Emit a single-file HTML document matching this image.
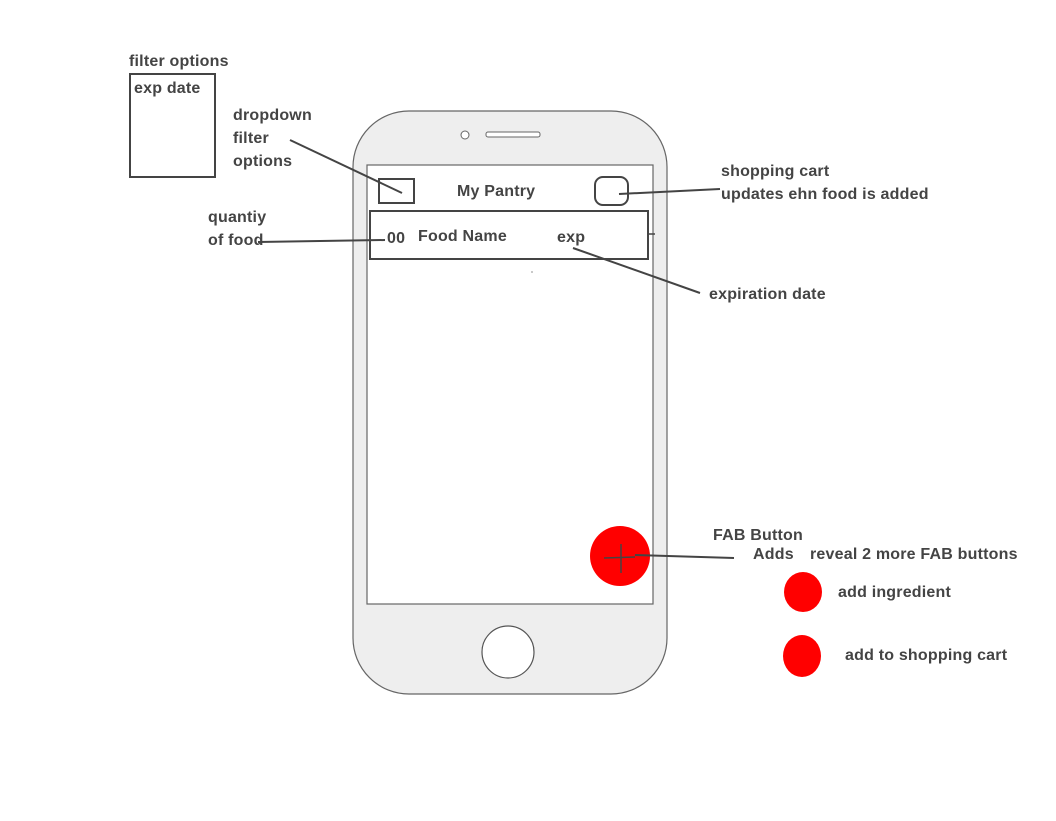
<!DOCTYPE html>
<html><head><style>
body{margin:0;background:#fff}
svg text{font-family:"Liberation Sans",sans-serif;font-weight:bold;font-size:16px;letter-spacing:0.2px;fill:#444}
</style></head><body>
<svg width="1056" height="816" xmlns="http://www.w3.org/2000/svg">
<rect x="353" y="111" width="314" height="583" rx="56" fill="#eee" stroke="#666" stroke-width="1.2"/>
<rect x="367" y="165" width="286" height="439" fill="#fff" stroke="#666" stroke-width="1.2"/>
<circle cx="465" cy="135" r="4" fill="#fff" stroke="#666"/>
<rect x="486" y="132" width="54" height="5" rx="2" fill="#fff" stroke="#666"/>
<circle cx="508" cy="652" r="26" fill="#fff" stroke="#555" stroke-width="1.2"/>
<rect x="379" y="179" width="35" height="24" fill="none" stroke="#444" stroke-width="2"/>
<rect x="595" y="177" width="33" height="28" rx="8" fill="none" stroke="#444" stroke-width="2"/>
<rect x="370" y="211" width="278" height="48" fill="none" stroke="#444" stroke-width="2"/>
<line x1="648" y1="234" x2="655" y2="234" stroke="#444" stroke-width="1.5"/>
<text x="457" y="196">My Pantry</text>
<text x="387" y="243">00</text>
<text x="418" y="241">Food Name</text>
<text x="557" y="242">exp</text>
<rect x="130" y="74" width="85" height="103" fill="none" stroke="#444" stroke-width="2"/>
<text x="129" y="66">filter options</text>
<text x="134" y="93">exp date</text>
<text x="233" y="120">dropdown</text>
<text x="233" y="143">filter</text>
<text x="233" y="166">options</text>
<line x1="290" y1="140" x2="402" y2="193" stroke="#444" stroke-width="2"/>
<text x="208" y="222">quantiy</text>
<text x="208" y="245">of food</text>
<line x1="258" y1="242" x2="385" y2="240" stroke="#444" stroke-width="2"/>
<text x="721" y="176">shopping cart</text>
<text x="721" y="199">updates ehn food is added</text>
<line x1="619" y1="194" x2="720" y2="189" stroke="#444" stroke-width="2"/>
<line x1="573" y1="248" x2="700" y2="293" stroke="#444" stroke-width="2"/>
<text x="709" y="299">expiration date</text>
<circle cx="620" cy="556" r="30" fill="#f00"/>
<line x1="604" y1="558" x2="635" y2="557" stroke="#444" stroke-width="1.5"/>
<line x1="621" y1="544" x2="621" y2="573" stroke="#444" stroke-width="1.5"/>
<line x1="635" y1="555" x2="734" y2="558" stroke="#444" stroke-width="2"/>
<text x="713" y="540">FAB Button</text>
<text x="753" y="559">Adds</text>
<text x="810" y="559">reveal 2 more FAB buttons</text>
<ellipse cx="803" cy="592" rx="19" ry="20" fill="#f00"/>
<ellipse cx="802" cy="656" rx="19" ry="21" fill="#f00"/>
<text x="838" y="597">add ingredient</text>
<text x="845" y="660">add to shopping cart</text>
<circle cx="532" cy="272" r="0.6" fill="#444"/>
</svg>
</body></html>
